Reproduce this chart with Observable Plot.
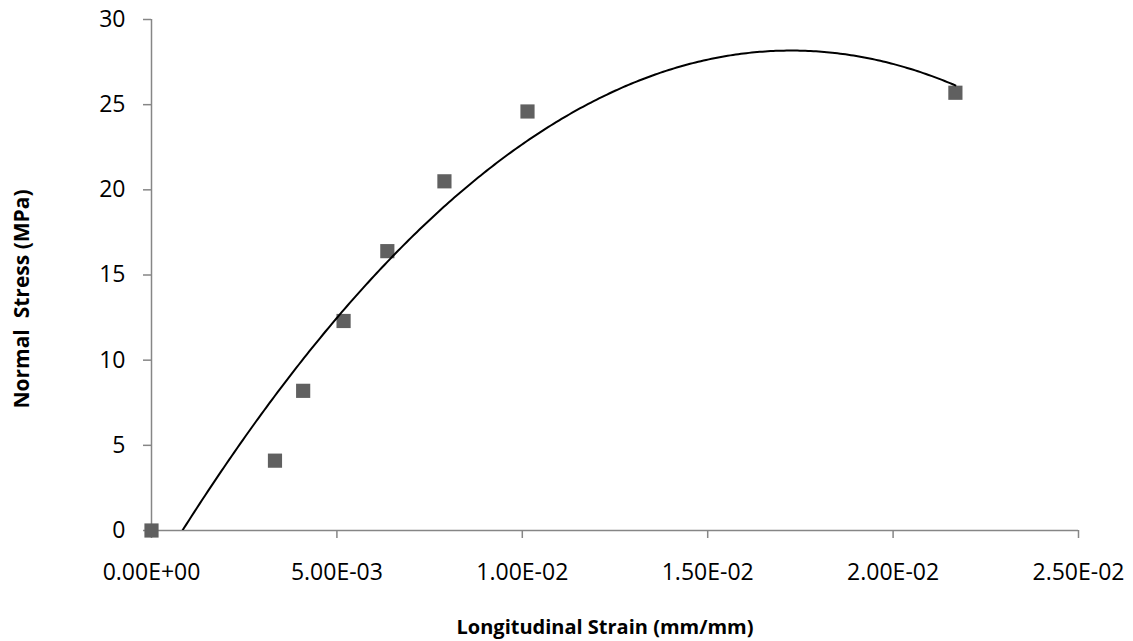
<!DOCTYPE html>
<html><head><meta charset="utf-8">
<script src="https://cdn.jsdelivr.net/npm/d3@7"></script>
<script src="https://cdn.jsdelivr.net/npm/@observablehq/plot@0.6"></script>
<style>
body{margin:0;background:#fff}
#chart svg{display:block}
</style>
</head><body><div id="chart"></div>
<script>
// Data
const strain = [0, 0.00333, 0.00409, 0.00518, 0.00636, 0.0079, 0.01014, 0.02168];
const stress = [0, 4.1, 8.2, 12.3, 16.4, 20.5, 24.6, 25.7];
const xTicks = [0, 0.005, 0.01, 0.015, 0.02, 0.025];
const xTickLabels = ["0.00E+00", "5.00E-03", "1.00E-02", "1.50E-02", "2.00E-02", "2.50E-02"];
const yTicks = [0, 5, 10, 15, 20, 25, 30];
const xTitle = "Longitudinal Strain (mm/mm)";
const yTitle = "Normal  Stress (MPa)";

const points = strain.map((x, i) => ({x, y: stress[i]}));

// Second-order polynomial trendline (least squares), as in the source chart
function fitQuadratic(xs, ys) {
  const s = 1000; // scale for conditioning
  const X = xs.map(v => v * s);
  const S = k => d3.sum(X, v => v ** k);
  const T = k => d3.sum(X, (v, i) => v ** k * ys[i]);
  const A = [[S(0), S(1), S(2), T(0)], [S(1), S(2), S(3), T(1)], [S(2), S(3), S(4), T(2)]];
  for (let i = 0; i < 3; i++) {
    let p = i;
    for (let r = i + 1; r < 3; r++) if (Math.abs(A[r][i]) > Math.abs(A[p][i])) p = r;
    [A[i], A[p]] = [A[p], A[i]];
    for (let r = 0; r < 3; r++) if (r !== i) {
      const f = A[r][i] / A[i][i];
      for (let c = i; c < 4; c++) A[r][c] -= f * A[i][c];
    }
  }
  const c = A.map((row, i) => row[3] / row[i]);
  return x => c[0] + c[1] * (x * s) + c[2] * (x * s) ** 2;
}
const f = fitQuadratic(strain, stress);
const xMax = d3.max(strain);
const trend = d3.range(0, 301).map(i => { const x = xMax * i / 300; return {x, y: f(x)}; });

const axisGray = "#868686";
const plot = Plot.plot({
  width: 1133,
  height: 641,
  marginLeft: 151,
  marginRight: 55,
  marginTop: 19,
  marginBottom: 111,
  style: {fontFamily: "'Open Sans', sans-serif", fontSize: "23px", color: "#000", background: "#fff"},
  x: {domain: [0, 0.025]},
  y: {domain: [0, 30]},
  marks: [
    Plot.axisX({ticks: xTicks, tickFormat: d => xTickLabels[xTicks.indexOf(d)], tickSize: 8, tickPadding: 25, stroke: axisGray, strokeWidth: 1.5, fill: "#000", label: null}),
    Plot.axisY({ticks: yTicks, tickSize: 8, tickPadding: 18, stroke: axisGray, strokeWidth: 1.5, fill: "#000", label: null}),
    Plot.ruleX([0], {stroke: axisGray, strokeWidth: 1.5}),
    Plot.ruleY([0], {stroke: axisGray, strokeWidth: 1.5}),
    Plot.dot(points, {x: "x", y: "y", symbol: "square", r: 8, fill: "#606060", stroke: "none"}),
    Plot.line(trend, {x: "x", y: "y", stroke: "#000", strokeWidth: 2, clip: true}),
    Plot.text([yTitle], {frameAnchor: "left", textAnchor: "middle", lineAnchor: "middle", dx: -129, dy: 24, rotate: -90, fontWeight: "bold", fontSize: 21, fill: "#000"}),
    Plot.text([xTitle], {frameAnchor: "bottom", textAnchor: "middle", lineAnchor: "middle", dx: -10, dy: 97, fontWeight: "bold", fontSize: 20, fill: "#000"})
  ]
});
document.getElementById("chart").appendChild(plot);
</script>
</body></html>
